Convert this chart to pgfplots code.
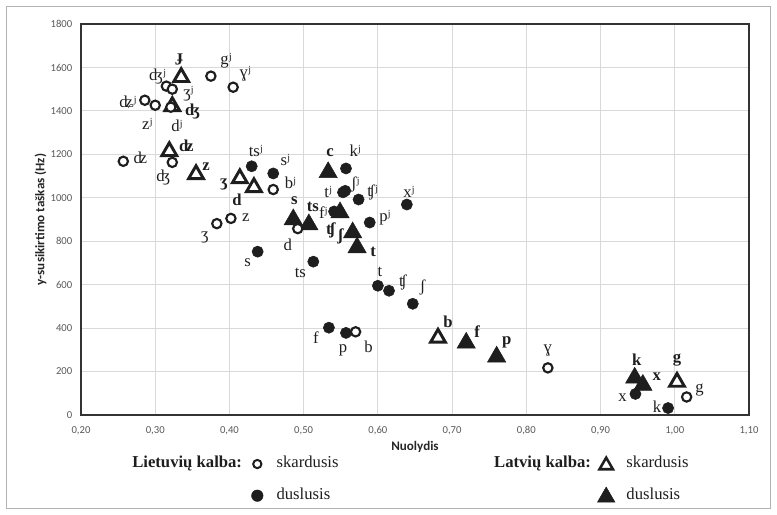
\documentclass[border=0pt]{standalone}
\usepackage{fontspec}
\setmainfont{Liberation Serif}
\newfontfamily\carlito{Carlito}
\usepackage{pgfplots}
\pgfplotsset{compat=1.18}
\usepackage{pgfplotstable}

\pgfplotstableread{
x y
0.257 1168
0.323 1163
0.286 1449
0.300 1426
0.315 1514
0.323 1500
0.321 1417
0.375 1560
0.405 1509
0.459 1038
0.492 858
0.402 905
0.383 881
0.570 383
0.829 217
1.016 83
}\ltvoiced

\pgfplotstableread{
x y
0.430 1145
0.459 1112
0.438 752
0.513 706
0.557 1135
0.553 1025
0.556 1032
0.574 992
0.541 937
0.589 886
0.639 969
0.600 595
0.615 572
0.647 512
0.534 402
0.557 378
0.947 97
0.991 32
}\ltvoiceless

\pgfplotstableread{
x y
0.335 1555
0.323 1421
0.319 1214
0.355 1108
0.414 1089
0.433 1048
0.681 355
1.003 152
}\lvvoiced

\pgfplotstableread{
x y
0.533 1117
0.486 900
0.507 877
0.549 932
0.566 840
0.572 771
0.719 332
0.760 268
0.946 171
0.957 138
}\lvvoiceless

\definecolor{gridc}{HTML}{D9D9D9}
\definecolor{tickc}{HTML}{595959}
\definecolor{txt}{HTML}{1E1E1E}

\pgfplotsset{
 ltv/.style={only marks, mark=*, mark size=3.5pt, mark options={draw=txt, fill=white, line width=1.6pt}},
 ltu/.style={only marks, mark=*, mark size=4.2pt, mark options={draw=txt, fill=txt, line width=0.4pt}},
 lvv/.style={only marks, mark=triangle*, mark size=6.4pt, mark options={draw=txt, fill=white, line width=2.2pt, line join=miter}},
 lvu/.style={only marks, mark=triangle*, mark size=7.9pt, mark options={draw=txt, fill=txt, line width=0.4pt, line join=miter}},
}

\tikzset{lbl/.style={font=\fontsize{12.5}{13}\selectfont, text=txt, inner sep=0pt, anchor=center}}
\newcommand\lab[5]{\node[lbl, xshift={(#3)*0.75pt}, yshift={-(#4)*0.75pt}] at (axis cs:#1,#2) {#5};}
\newcommand\labb[5]{\node[lbl, font=\fontsize{12.5}{13}\selectfont\bfseries, xshift={(#3)*0.75pt}, yshift={-(#4)*0.75pt}] at (axis cs:#1,#2) {#5};}

\begin{document}
\begin{tikzpicture}
\useasboundingbox (-60.75pt,-74.25pt) rectangle (522pt,311.25pt);
\draw[black!30, line width=0.75pt] (-55.5pt,-69.75pt) rectangle (516.75pt,306pt);
\begin{axis}[
  at={(0pt,0pt)}, anchor=south west,
  scale only axis, width=501pt, height=293.25pt,
  xmin=0.2, xmax=1.1, ymin=0, ymax=1800,
  xtick={0.2,0.3,...,1.15}, ytick={0,200,...,1800},
  grid=major, major grid style={gridc, line width=0.75pt},
  axis line style={black!80, line width=0.9pt},
  major tick length=0pt,
  tick label style={font=\carlito\fontsize{8}{9}\selectfont, text=tickc},
  /pgf/number format/assume math mode=true,
  /pgf/number format/use comma,
  /pgf/number format/1000 sep={},
  xticklabel style={/pgf/number format/fixed, /pgf/number format/fixed zerofill, /pgf/number format/precision=2, yshift=-5pt},
  yticklabel style={xshift=-3pt},
  xlabel={Nuolydis},
  ylabel={y-susikirtimo taškas (Hz)},
  label style={font=\carlito\bfseries\fontsize{9.8}{11}\selectfont, text=black!85},
  xlabel style={at={(axis description cs:0.5,0)}, anchor=center, yshift=-24pt},
  ylabel style={at={(axis description cs:-0.0605,0.5)}, anchor=center},
  legend columns=4,
  legend cell align=left,
  legend style={draw=none, fill=none, at={(axis description cs:0.0704,-0.100)}, anchor=north west,
    font=\fontsize{12.5}{13}\selectfont, text=txt, column sep=0pt, row sep=12pt,
    nodes={inner sep=0pt, text height=8pt, text depth=2.5pt}},
]
\addplot[lvv, forget plot] table {\lvvoiced};
\addplot[lvu, forget plot] table {\lvvoiceless};
\addplot[ltv, forget plot] table {\ltvoiced};
\addplot[ltu, forget plot] table {\ltvoiceless};

% legend
\addlegendimage{legend image code/.code={}}
\addlegendentry{\textbf{Lietuvių kalba:}}
\addlegendimage{legend image code/.code={\path (0pt,0pt) (25.5pt,0pt); \draw[only marks, mark=*, mark size=3.1pt, mark options={draw=txt, fill=white, line width=1.5pt}] plot coordinates {(11.25pt,0pt)};}}
\addlegendentry{skardusis}
\addlegendimage{legend image code/.code={\path (0pt,0pt) (116.25pt,0pt);}}
\addlegendentry{\textbf{Latvių kalba:}}
\addlegendimage{legend image code/.code={\path (0pt,0pt) (26.25pt,0pt); \draw[only marks, mark=triangle*, mark size=5.8pt, mark options={draw=txt, fill=white, line width=1.9pt, line join=miter}] plot coordinates {(11.25pt,-1pt)};}}
\addlegendentry{skardusis}
\addlegendimage{legend image code/.code={}}
\addlegendentry{}
\addlegendimage{legend image code/.code={\path (0pt,0pt) (25.5pt,0pt); \draw[only marks, mark=*, mark size=4.3pt, mark options={draw=txt, fill=txt}] plot coordinates {(11.25pt,0pt)};}}
\addlegendentry{duslusis}
\addlegendimage{legend image code/.code={\path (0pt,0pt) (116.25pt,0pt);}}
\addlegendentry{}
\addlegendimage{legend image code/.code={\path (0pt,0pt) (26.25pt,0pt); \draw[only marks, mark=triangle*, mark size=7.5pt, mark options={draw=txt, fill=txt}] plot coordinates {(11.25pt,-1pt)};}}
\addlegendentry{duslusis}

% Lithuanian voiced labels
\lab{0.257}{1168}{17}{-3}{ʣ}
\lab{0.323}{1163}{-9}{15}{ʤ}
\lab{0.286}{1449}{-17}{2}{ʥʲ}
\lab{0.300}{1426}{-8}{19}{zʲ}
\lab{0.315}{1514}{-9}{-10}{ʤʲ}
\lab{0.323}{1500}{16}{5}{ʒʲ}
\lab{0.321}{1417}{6}{19}{dʲ}
\lab{0.375}{1560}{15}{-15}{gʲ}
\lab{0.405}{1509}{12}{-14}{ɣʲ}
\lab{0.459}{1038}{17}{-7}{bʲ}
\lab{0.492}{858}{-10}{16}{d}
\lab{0.402}{905}{15}{-1}{z}
\lab{0.383}{881}{-12}{14}{ʒ}
\lab{0.570}{383}{13}{15}{b}
\lab{0.829}{217}{0}{-17}{ɣ}
\lab{1.016}{83}{13}{-7}{g}
% Lithuanian voiceless labels
\lab{0.430}{1145}{4}{-15}{tsʲ}
\lab{0.459}{1112}{12}{-13}{sʲ}
\lab{0.438}{752}{-10}{11}{s}
\lab{0.513}{706}{-13}{11}{ts}
\lab{0.557}{1135}{9}{-18}{kʲ}
\lab{0.553}{1025}{-15}{0}{tʲ}
\lab{0.556}{1032}{10}{-6}{ʃʲ}
\lab{0.574}{992}{14}{-7}{ʧʲ}
\lab{0.541}{937}{-11}{1}{fʲ}
\lab{0.589}{886}{15}{-5}{pʲ}
\lab{0.639}{969}{2}{-13}{xʲ}
\lab{0.600}{595}{2}{-14}{t}
\lab{0.615}{572}{14}{-8}{ʧ}
\lab{0.647}{512}{10}{-16}{ʃ}
\lab{0.534}{402}{-13}{10}{f}
\lab{0.557}{378}{-3}{17}{p}
\lab{0.947}{97}{-13}{4}{x}
\lab{0.991}{32}{-11}{-1}{k}
% Latvian voiced labels
\labb{0.335}{1555}{-1}{-18}{ɟ}
\labb{0.323}{1421}{20}{5}{ʤ}
\labb{0.319}{1214}{17}{-5}{ʣ}
\labb{0.355}{1108}{10}{-8}{z}
\labb{0.414}{1089}{-16}{6}{ʒ}
\labb{0.433}{1048}{-17}{12}{d}
\labb{0.681}{355}{10}{-16}{b}
\labb{1.003}{152}{0}{-22}{g}
% Latvian voiceless labels
\labb{0.533}{1117}{2}{-20}{c}
\labb{0.486}{900}{1}{-19}{s}
\labb{0.507}{877}{4}{-18}{ts}
\labb{0.566}{840}{-22}{-2}{ʧ}
\labb{0.566}{840}{-12}{4}{ʃ}
\labb{0.572}{771}{16}{4}{t}
\labb{0.719}{332}{11}{-11}{f}
\labb{0.760}{268}{10}{-14}{p}
\labb{0.946}{171}{2}{-18}{k}
\labb{0.957}{138}{14}{-8}{x}
\end{axis}
\end{tikzpicture}
\end{document}
